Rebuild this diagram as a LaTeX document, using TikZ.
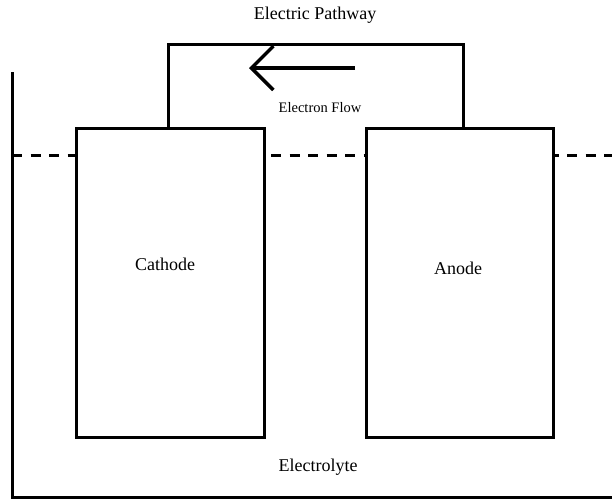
\documentclass[tikz,border=0pt]{standalone}
\usepackage{fontspec}
\setmainfont{Liberation Serif}
\usetikzlibrary{arrows.meta}
\begin{document}
\begin{tikzpicture}[x=1pt,y=-1pt,
  electrode/.style={draw, fill=white, line width=3pt, minimum width=188pt, minimum height=309pt, inner sep=0pt},
  wire/.style={line width=3pt},
  lbl/.style={font=\fontsize{18}{20}\selectfont, inner sep=0pt},
  smalllbl/.style={font=\fontsize{14.5}{16}\selectfont, inner sep=0pt},
  flowarrow/.style={line width=3.5pt, -{Straight Barb[length=22pt,width=44pt]}}]
\useasboundingbox (0,0) rectangle (612,499);
% electrolyte container
\coordinate (tankTop) at (12,72);
\coordinate (tankCorner) at (12,497);
\coordinate (tankEnd) at (612,497);
\draw[wire] (tankTop) -- (tankCorner) -- (tankEnd);
% electrolyte level
\coordinate (levelL) at (12,155);
\coordinate (levelR) at (612,155);
\draw[line width=3pt, dash pattern=on 10pt off 8.5pt] (levelL) -- (levelR);
% electrodes
\node[electrode] (cathode) at (170,282.5) {};
\node[electrode, minimum width=187pt] (anode) at (459.5,282.5) {};
% electric pathway
\coordinate (pathL) at (168,44);
\coordinate (pathR) at (463,44);
\draw[wire] (cathode.north -| pathL) -- (pathL) -- (pathR) -- (anode.north -| pathR);
% electron flow arrow
\coordinate (flowStart) at (355,68);
\coordinate (flowEnd) at (249,68);
\draw[flowarrow] (flowStart) -- (flowEnd);
% labels
\node[lbl] (tPath) at (315,15) {Electric Pathway};
\node[smalllbl] (tFlow) at (320,108) {Electron Flow};
\node[lbl] (tCath) at (165,264) {Cathode};
\node[lbl] (tAnode) at (458,268) {Anode};
\node[lbl] (tElec) at (318,467) {Electrolyte};
\end{tikzpicture}
\end{document}
